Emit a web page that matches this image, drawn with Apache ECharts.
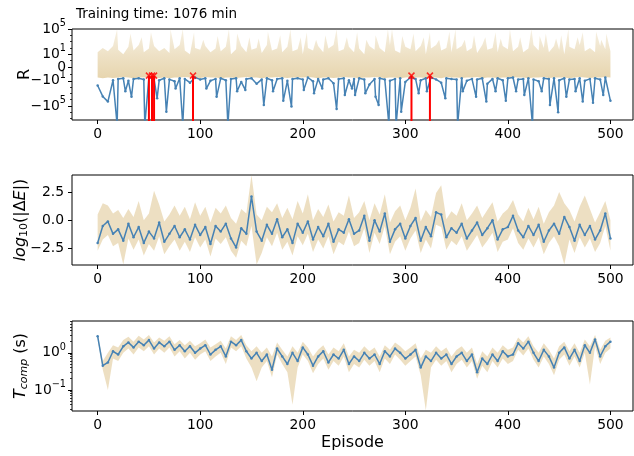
<!DOCTYPE html>
<html>
<head>
<meta charset="utf-8">
<script src="https://cdn.jsdelivr.net/npm/echarts@6/dist/echarts.min.js"></script>
<style>
html,body{margin:0;padding:0;background:#fff;}
#chart{width:634px;height:456px;}
</style>
</head>
<body>
<div id="chart"></div>
<script>
// episodes sampled every 5
var episodes = [];
for (var e = 0; e <= 500; e += 5) episodes.push(e);

// R (symlog axis): plateau read every 5 episodes, plus the narrow dips
var rewardR = [-55,-3000,-2e4,-8,-5,-4,-10,-5,-4,-6,-3,-5,-8,-4,-6,-12,-4,-5,-20,-3,
  -6,-4,-10,-5,-4,-8,-5,-4,-15,-5,-4,-30,-6,-4,-8,-5,-4,-10,-5,-4,
  -6,-3,-12,-5,-6,-4,-25,-5,-4,-8,-5,-4,-6,-40,-5,-4,-6,-10,-5,-4,
  -15,-3,-5,-8,-4,-3,-6,-20,-4,-5,-6,-4,-10,-5,-6,-4,-30,-5,-4,-8,
  -4,-3,-6,-5,-4,-6,-12,-4,-5,-4,-8,-4,-6,-5,-4,-10,-5,-4,-6,-3,-1.5e4];
var dipEp = [19,27,33,46,58,67,76,83,106,116,127,136,144,162,171,181,189,201,211,219,
  233,241,248,251,261,271,274,284,291,296,313,321,339,351,356,369,379,388,398,408,
  416,424,433,441,449,457,466,473,483,493];
var dipR = [-1e8,-450,-3500,-1e8,-6000,-8e5,-170,-1e8,-170,-3500,-1e8,-450,-275,-7e4,-450,-1.5e4,-1.2e5,-275,-900,-170,
  -3e5,-1800,-170,-1800,-900,-3500,-7e4,-1e8,-1e8,-8e5,-900,-450,-6000,-1e8,-450,-3500,-2e4,-450,-1.5e4,-450,
  -1800,-1e8,-450,-7e4,-1e6,-3500,-450,-2e4,-3e4,-1800];
// band max: base level every 5 episodes plus thin spikes
var rewardMax = [20,100,30,200,50,10,150,40,300,20,80,200,30,100,15,60,300,40,10,100,
  50,200,20,80,30,150,10,60,200,20,50,100,15,300,40,80,20,150,30,60,
  10,100,40,200,20,80,300,30,60,150,20,80,10,200,50,100,20,300,40,15,
  150,60,30,200,10,80,300,40,100,20,60,200,30,100,15,300,50,100,20,200,
  60,30,150,20,80,300,40,100,20,200,50,10,150,60,300,30,100,20,200,60,30];
var spikeEp = [19,32,43,52,71,83,94,103,117,128,136,148,157,166,178,188,198,204,213,222,
  233,243,253,262,271,283,287,297,308,318,324,333,343,349,358,367,378,388,393,402,
  412,423,431,437,447,452,459,468,473,486,491,496];
var spikeR = [1e5,2e4,5000,3e4,1e5,1e5,3e4,2000,8000,1e5,2e4,5000,3000,4e4,1e4,1e5,5000,3e4,2000,1e4,
  1e5,5000,3e4,2000,1e4,1e5,1e5,8000,2e4,5000,3e4,2000,4e4,1e5,2000,1e4,5000,3e4,3000,1e5,
  5000,1e5,8000,2e4,3000,1e4,1e5,5000,3e4,4e4,2000,2e4];
var rewardMin = [-3,-4,-3,-3.5,-3,-2.5,-3,-4,-3,-3,-2.5,-3,-3.5,-3,-4,-3,-3,-2.5,-3,-3,
  -3.5,-2.5,-3,-3,-4,-3,-3,-3.5,-3,-2.5,-3,-3,-4,-3,-3,-2.5,-3,-3.5,-3,-3,
  -3,-2.5,-3,-4,-3,-3,-3.5,-3,-2.5,-3,-3,-4,-3,-3,-2.5,-3,-3.5,-3,-3,-4,
  -3,-2.5,-3,-3,-3.5,-3,-3,-4,-2.5,-3,-3,-3.5,-3,-3,-2.5,-4,-3,-3,-3.5,-3,
  -3,-2.5,-3,-3,-4,-3,-3,-2.5,-3.5,-3,-3,-3,-4,-3,-2.5,-3,-3.5,-3,-3,-2.5,-3];
var failEpisodes = [50, 53, 55, 93, 306, 324];
var failR = [-1.5, -1.5, -1.5, -1.5, -1.5, -1.5];

// log10(|dE|)
var logDE = [-2.0,-0.5,-0.1,-1.2,-0.8,-1.8,-0.3,-1.5,-0.6,-2.0,-1.0,-1.6,-0.2,-1.9,-1.2,-0.5,-1.5,-0.8,-1.7,-0.4,
  -1.3,-0.6,-2.1,-0.5,-1.0,-0.3,-1.6,-2.4,-0.7,-1.2,2.1,-1.0,-1.8,-0.4,-1.2,0.1,-1.5,-0.8,-2.0,-0.3,
  -1.1,-0.1,-1.7,-0.6,-1.4,-0.3,-1.9,-0.8,-1.1,0.1,-1.2,-0.9,0.4,-1.8,0.0,-1.0,0.6,-1.9,-0.8,-0.3,
  -1.6,-0.5,0.2,-1.8,-0.6,-1.4,0.7,0.5,-1.5,-0.7,-1.1,-0.3,-1.6,-0.9,-0.2,-1.3,-0.7,0.0,-1.7,-0.8,
  -0.6,0.4,-0.9,-1.5,-0.5,-1.3,-0.4,-1.9,-0.9,-0.3,-1.2,0.3,-0.6,-1.8,-0.4,-1.3,-0.5,-1.7,-0.9,0.6,-1.6];
var logDEMax = [0.5,1.5,1.3,0.6,0.9,0.2,1.0,0.3,1.7,0.0,0.6,2.6,1.4,-0.1,0.5,1.3,0.4,1.2,0.1,1.6,
  0.4,1.2,-0.2,1.1,0.6,1.3,0.2,-0.3,1.0,0.6,4.0,0.5,0.0,1.2,0.7,1.5,0.2,1.1,0.1,1.7,
  0.6,2.3,0.0,1.0,0.3,1.4,-0.1,0.7,0.4,2.2,0.2,0.7,1.7,0.0,1.5,0.5,2.3,-0.2,0.8,1.3,
  0.0,1.1,2.8,-0.1,0.9,0.3,2.4,3.1,0.1,0.8,0.4,1.5,0.0,0.6,1.3,0.2,0.9,1.6,-0.1,0.6,
  1.0,1.8,0.5,-0.1,1.1,0.1,1.2,-0.3,0.7,1.3,2.5,1.5,0.9,-0.1,1.2,2.2,1.0,-0.2,0.7,1.7,0.0];
var logDEMin = [-2.7,-1.7,-1.3,-2.3,-2.0,-3.9,-1.6,-2.6,-1.7,-3.1,-2.1,-2.7,-1.4,-3.0,-2.3,-1.7,-2.7,-1.9,-2.8,-1.5,
  -2.4,-1.7,-3.2,-1.6,-2.1,-1.5,-2.7,-3.3,-1.8,-2.3,-0.5,-3.9,-2.9,-1.5,-2.3,-1.1,-2.6,-1.9,-3.1,-1.4,
  -2.2,-1.2,-2.8,-1.7,-2.5,-1.4,-3.0,-1.9,-2.2,-1.0,-2.3,-2.0,-0.7,-2.9,-1.1,-2.1,-0.5,-3.0,-1.9,-1.4,
  -2.7,-1.6,-0.9,-2.9,-1.7,-2.5,-0.4,-0.6,-2.6,-1.8,-2.2,-1.4,-2.7,-2.0,-1.3,-2.4,-1.8,-1.1,-2.8,-1.9,
  -1.7,-0.7,-2.0,-2.6,-1.6,-2.4,-1.5,-3.0,-2.0,-1.4,-2.3,-3.9,-1.7,-2.9,-1.5,-2.4,-1.6,-2.8,-2.0,-0.5,-2.7];

// T_comp (s), log axis
var tComp = [2.8,0.45,0.55,1.1,0.9,1.5,1.9,1.4,2.0,1.6,2.2,1.3,1.9,1.5,2.0,1.2,1.6,1.1,1.5,1.0,
  1.3,1.6,0.9,1.2,1.5,0.8,2.0,1.6,2.2,1.1,0.7,1.0,0.6,0.9,0.35,1.3,0.8,0.5,1.0,0.6,
  1.4,0.9,0.45,0.8,1.1,0.55,0.9,0.7,1.2,0.5,0.8,0.6,1.0,0.7,0.9,0.5,1.1,0.8,1.3,1.0,
  0.7,0.9,1.2,0.4,0.8,0.6,1.0,0.7,0.9,0.5,0.8,1.0,0.6,0.9,0.3,0.7,0.5,0.9,0.6,1.1,
  0.8,0.9,1.8,1.3,2.0,1.0,0.6,1.2,0.8,0.4,1.0,1.4,0.7,1.2,0.6,1.6,1.0,2.3,0.8,1.5,2.0];
var tCompMax = [3.2,0.6,1.0,1.6,1.4,2.2,2.7,2.0,2.9,2.3,3.0,1.9,2.6,2.1,2.8,1.7,2.2,1.6,2.1,1.5,
  1.8,2.3,1.4,1.7,2.1,1.3,2.8,2.2,3.0,1.6,1.1,1.5,1.0,1.4,0.8,1.9,1.2,0.8,1.5,1.0,
  2.0,1.4,0.8,1.2,1.6,0.9,1.4,1.1,1.8,0.8,1.2,1.0,1.5,1.1,1.4,0.8,1.6,1.2,1.9,1.5,
  1.1,1.4,1.8,0.7,1.2,1.0,1.5,1.1,1.4,0.8,1.2,1.5,1.0,1.4,0.5,1.1,0.8,1.4,1.0,1.6,
  1.2,1.4,2.6,1.9,2.8,1.5,1.0,1.8,1.2,0.7,1.5,2.0,1.1,1.8,1.0,2.3,1.5,3.0,1.2,2.1,2.6];
var tCompMin = [2.4,0.35,0.1,0.7,0.6,1.0,1.3,0.9,1.4,1.1,1.5,0.9,1.3,1.0,1.4,0.8,1.1,0.7,1.0,0.65,
  0.9,1.1,0.6,0.8,1.0,0.5,1.4,1.1,1.5,0.7,0.4,0.17,0.4,0.6,0.22,0.9,0.5,0.3,0.04,0.4,
  0.9,0.6,0.28,0.5,0.7,0.35,0.6,0.45,0.8,0.3,0.5,0.4,0.65,0.45,0.6,0.3,0.7,0.5,0.9,0.65,
  0.45,0.6,0.8,0.25,0.028,0.4,0.65,0.45,0.6,0.3,0.5,0.65,0.4,0.6,0.2,0.45,0.3,0.6,0.4,0.7,
  0.5,0.6,1.2,0.85,1.3,0.65,0.4,0.8,0.5,0.25,0.65,0.9,0.45,0.8,0.4,1.0,0.14,1.5,0.5,1.0,1.3];

var xTicks = [0, 100, 200, 300, 400, 500];
var rTicks = [-1e5, -10, 0, 10, 1e5];
var deTicks = [-2.5, 0, 2.5];
var tTicks = [0.1, 1];

var FONT = 'DejaVu Sans';
var BLUE = '#4682b4';
var BAND = 'rgba(215,185,120,0.45)';

var LINSCALE = 1 / (1 - 1 / 10);
function symlog(v) {
    var a = Math.abs(v);
    if (a <= 1) return v * LINSCALE;
    return (v < 0 ? -1 : 1) * (LINSCALE + Math.log10(a));
}
// merge base samples and extra points into one sorted list of [x, y]
function mergePts(xa, ya, xb, yb) {
    var pts = [];
    xa.forEach(function (x, i) { pts.push([x, ya[i]]); });
    xb.forEach(function (x, i) { pts.push([x, yb[i]]); });
    pts.sort(function (p, q) { return p[0] - q[0]; });
    return pts;
}
function pairs(ys) {
    return episodes.map(function (x, i) { return [x, ys[i]]; });
}

var tickLabel = {fontFamily: FONT, fontSize: 13.9, color: '#000',
    rich: {b: {fontFamily: FONT, fontSize: 13.9, color: '#000'},
           s: {fontFamily: FONT, fontSize: 9.7, color: '#000', padding: [0, 0, 11, 0]}}};

function xAxis(i, name) {
    return {
        type: 'value', gridIndex: i, min: -25, max: 522,
        axisLine: {show: false, onZero: false},
        axisTick: {show: true, length: 4, customValues: xTicks, lineStyle: {color: '#000', width: 1}},
        axisLabel: Object.assign({margin: 7, customValues: xTicks, showMinLabel: true, showMaxLabel: true}, tickLabel),
        splitLine: {show: false},
        name: name || '', nameLocation: 'middle', nameGap: 24,
        nameTextStyle: {fontFamily: FONT, fontSize: 16, color: '#000'}
    };
}
function minorAxis(i, min, max, vals) {
    return {
        type: 'value', gridIndex: i, min: min, max: max, position: 'left',
        axisLine: {show: false, onZero: false}, axisLabel: {show: false}, splitLine: {show: false},
        axisTick: {show: true, length: 2, customValues: vals, lineStyle: {color: '#000', width: 0.8}}
    };
}

var nameRich = {
    n: {fontFamily: FONT, fontSize: 16, color: '#000'},
    i: {fontFamily: FONT, fontSize: 16, fontStyle: 'italic', color: '#000'},
    sub: {fontFamily: FONT, fontSize: 11, fontStyle: 'italic', color: '#000', padding: [8, 0, 0, 0]},
    subn: {fontFamily: FONT, fontSize: 11, color: '#000', padding: [8, 0, 0, 0]}
};

var rMinor = [1e2, 1e3, 1e4, -1e2, -1e3, -1e4, -1e6, -1e7, 1, -1].map(symlog);
var tMinor = [0.03,0.04,0.05,0.06,0.07,0.08,0.09,0.2,0.3,0.4,0.5,0.6,0.7,0.8,0.9,2,3,4,5,6,7].map(Math.log10);

var R_MIN = -8.33, R_MAX = symlog(1e5);
var T_MIN = Math.log10(0.027), T_MAX = Math.log10(7.2);

// filled band between an upper list and a lower list of [x, y] points
function bandSeries(i, upPts, loPts, f, fill) {
    return {
        type: 'custom', xAxisIndex: i, yAxisIndex: i, z: 1, silent: true,
        data: [[0, 0]],
        renderItem: function (params, api) {
            var pts = [];
            upPts.forEach(function (p) { pts.push(api.coord([p[0], f(p[1])])); });
            for (var k = loPts.length - 1; k >= 0; k--) pts.push(api.coord([loPts[k][0], f(loPts[k][1])]));
            var cs = params.coordSys;
            return {
                type: 'polygon', shape: {points: pts},
                style: {fill: fill || BAND, stroke: null},
                clipPath: {type: 'rect', shape: {x: cs.x, y: cs.y, width: cs.width, height: cs.height}}
            };
        }
    };
}
function lineSeries(i, pts, f) {
    return {
        type: 'line', xAxisIndex: i, yAxisIndex: i, z: 3,
        data: pts.map(function (p) { return [p[0], f(p[1])]; }),
        showSymbol: true, symbol: 'circle', symbolSize: 2.5,
        itemStyle: {color: BLUE}, lineStyle: {color: BLUE, width: 1.5}, animation: false
    };
}
var ident = function (v) { return v; };

var rBandFill = new echarts.graphic.LinearGradient(0, 0, 0, 1, [
    {offset: 0, color: 'rgba(215,185,120,0.2)'},
    {offset: 0.6, color: 'rgba(215,185,120,0.45)'},
    {offset: 1, color: 'rgba(215,185,120,0.6)'}
]);

var series = [
    bandSeries(0, mergePts(episodes, rewardMax, spikeEp, spikeR), pairs(rewardMin), symlog, rBandFill),
    lineSeries(0, mergePts(episodes, rewardR, dipEp, dipR), symlog),
    bandSeries(1, pairs(logDEMax), pairs(logDEMin), ident),
    lineSeries(1, pairs(logDE), ident),
    bandSeries(2, pairs(tCompMax), pairs(tCompMin), Math.log10),
    lineSeries(2, pairs(tComp), Math.log10)
];
failEpisodes.forEach(function (ep, k) {
    series.push({
        type: 'line', xAxisIndex: 0, yAxisIndex: 0, z: 4, showSymbol: false,
        data: [[ep, symlog(-1e8)], [ep, symlog(failR[k])]],
        lineStyle: {color: '#ff0000', width: 2}, animation: false
    });
});
series.push({
    type: 'scatter', xAxisIndex: 0, yAxisIndex: 0, z: 5,
    data: failEpisodes.map(function (ep, k) { return [ep, symlog(failR[k])]; }),
    symbol: 'path://M0,0L10,10M10,0L0,10', symbolSize: 6,
    itemStyle: {color: 'rgba(0,0,0,0)', borderColor: '#ff0000', borderWidth: 1.5}, animation: false
});

function grid(top, h) {
    return {left: 72, top: top, width: 561, height: h, show: true, borderColor: '#000', borderWidth: 1,
        containLabel: false, outerBoundsMode: 'none'};
}

var option = {
    backgroundColor: '#fff',
    animation: false,
    title: {
        text: 'Training time: 1076 min', left: 71, top: 2,
        textStyle: {fontFamily: FONT, fontSize: 13.5, fontWeight: 'normal', color: '#000'}
    },
    grid: [grid(29, 91), grid(175, 90), grid(321, 90)],
    xAxis: [xAxis(0), xAxis(1), xAxis(2, 'Episode')],
    yAxis: [
        {
            type: 'value', gridIndex: 0, min: R_MIN, max: R_MAX, position: 'left',
            axisLine: {show: false, onZero: false}, splitLine: {show: false},
            axisTick: {show: true, length: 4, customValues: rTicks.map(symlog), lineStyle: {color: '#000'}},
            axisLabel: Object.assign({margin: 6, customValues: rTicks.map(symlog),
                formatter: function (v) {
                    if (Math.abs(v) < 1e-6) return '{b|0}';
                    var ex = Math.round(Math.abs(v) - LINSCALE);
                    return (v < 0 ? '{b|\u221210}' : '{b|10}') + '{s|' + ex + '}';
                }}, tickLabel),
            name: 'R', nameLocation: 'middle', nameGap: 39, nameMoveOverlap: false,
            nameTextStyle: {fontFamily: FONT, fontSize: 16, color: '#000'}
        },
        {
            type: 'value', gridIndex: 1, min: -3.95, max: 4.0, position: 'left',
            axisLine: {show: false, onZero: false}, splitLine: {show: false},
            axisTick: {show: true, length: 4, customValues: deTicks, lineStyle: {color: '#000'}},
            axisLabel: Object.assign({margin: 8, customValues: deTicks,
                formatter: function (v) { return v.toFixed(1).replace('-', '\u2212'); }}, tickLabel),
            name: '{i|log}{subn|10}{n|(|\u0394}{i|E}{n||)}', nameLocation: 'middle', nameGap: 42,
            nameMoveOverlap: false,
            nameTextStyle: {fontFamily: FONT, fontSize: 16, color: '#000', rich: nameRich}
        },
        {
            type: 'value', gridIndex: 2, min: T_MIN, max: T_MAX, position: 'left',
            axisLine: {show: false, onZero: false}, splitLine: {show: false},
            axisTick: {show: true, length: 4, customValues: tTicks.map(Math.log10), lineStyle: {color: '#000'}},
            axisLabel: Object.assign({margin: 6, customValues: tTicks.map(Math.log10),
                formatter: function (v) {
                    var ex = Math.round(v);
                    return '{b|10}{s|' + String(ex).replace('-', '\u2212') + '}';
                }}, tickLabel),
            name: '{i|T}{sub|comp}{n| (s)}', nameLocation: 'middle', nameGap: 42,
            nameMoveOverlap: false,
            nameTextStyle: {fontFamily: FONT, fontSize: 16, color: '#000', rich: nameRich}
        },
        minorAxis(0, R_MIN, R_MAX, rMinor),
        minorAxis(2, T_MIN, T_MAX, tMinor)
    ],
    series: series
};

var myChart = echarts.init(document.getElementById('chart'));
myChart.setOption(option);
</script>
</body>
</html>
